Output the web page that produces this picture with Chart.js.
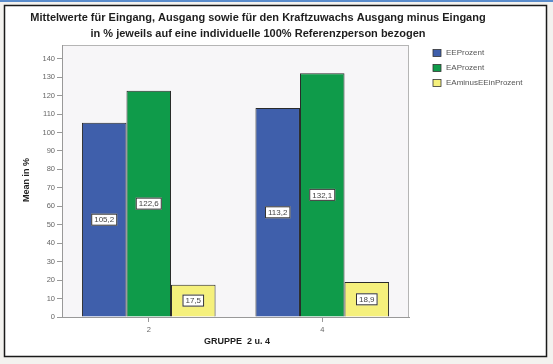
<!DOCTYPE html>
<html>
<head>
<meta charset="utf-8">
<script src="https://cdn.jsdelivr.net/npm/chart.js@4.4.1/dist/chart.umd.min.js"></script>
<style>
  html, body { margin: 0; padding: 0; background: #f3f2ef; }
  #wrap { width: 553px; height: 364px; position: relative; }
</style>
</head>
<body>
<div id="wrap"><canvas id="chart" width="553" height="364"></canvas></div>
<script>
const categories = ["2", "4"];
const eeProzent = [105.2, 113.2];
const eaProzent = [122.6, 132.1];
const eaMinusEe = [17.5, 18.9];
const seriesNames = ["EEProzent", "EAProzent", "EAminusEEinProzent"];
const titleLines = [
  "Mittelwerte für Eingang, Ausgang sowie für den Kraftzuwachs Ausgang minus Eingang",
  "in % jeweils auf eine individuelle 100% Referenzperson bezogen",
];
const yTitle = "Mean in %";
const xTitle = "GRUPPE  2 u. 4";

const FONT = "'Liberation Sans', Arial, sans-serif";

const framePlugin = {
  id: "frame",
  beforeDraw(chart) {
    const c = chart.ctx;
    c.save();
    c.fillStyle = "#f3f2ef";
    c.fillRect(0, 0, chart.width, chart.height);
    c.fillStyle = "#5a8ccc";
    c.fillRect(0, 0, chart.width, 2);
    c.fillStyle = "#ffffff";
    c.fillRect(4, 5, 543, 352);
    c.strokeStyle = "#1a1a1a";
    c.lineWidth = 1.5;
    c.strokeRect(4.5, 5.5, 542, 351);
    const a = chart.chartArea;
    c.fillStyle = "#f7f6f8";
    c.fillRect(a.left, a.top, a.right - a.left, a.bottom - a.top);
    c.strokeStyle = "#b5b5b5";
    c.lineWidth = 1;
    c.strokeRect(a.left + 0.5, a.top + 0.5, a.right - a.left - 1, a.bottom - a.top);
    c.restore();
  },
  afterDraw(chart) {
    const c = chart.ctx;
    c.save();
    // title
    c.fillStyle = "#1e1e1e";
    c.font = "bold 11px " + FONT;
    c.textAlign = "center";
    c.textBaseline = "middle";
    c.fillText(titleLines[0], 258, 18);
    c.fillText(titleLines[1], 258, 34);
    // axis titles
    c.font = "bold 9px " + FONT;
    c.fillText(xTitle, 237, 342);
    c.translate(27, 180);
    c.rotate(-Math.PI / 2);
    c.fillText(yTitle, 0, 0);
    c.restore();

    // legend
    c.save();
    c.font = "8px " + FONT;
    c.textBaseline = "middle";
    c.textAlign = "left";
    chart.data.datasets.forEach((ds, i) => {
      const y = 53 + i * 15;
      c.fillStyle = ds.backgroundColor;
      c.fillRect(433, y - 3.5, 8, 7);
      c.strokeStyle = "#333";
      c.lineWidth = 0.8;
      c.strokeRect(433, y - 3.5, 8, 7);
      c.fillStyle = "#555";
      c.fillText(ds.label, 446, y);
    });
    c.restore();

    // value boxes
    c.save();
    c.font = "8px " + FONT;
    c.textAlign = "center";
    c.textBaseline = "middle";
    chart.data.datasets.forEach((ds, i) => {
      chart.getDatasetMeta(i).data.forEach((bar, j) => {
        const txt = ds.data[j].toFixed(1).replace(".", ",");
        const cy = (bar.y + bar.base) / 2;
        const w = c.measureText(txt).width + 6;
        const h = 12;
        c.fillStyle = "#ffffff";
        c.fillRect(bar.x - w / 2, cy - h / 2, w, h);
        c.strokeStyle = "#333";
        c.lineWidth = 1;
        c.strokeRect(bar.x - w / 2 + 0.5, cy - h / 2 + 0.5, w - 1, h - 1);
        c.fillStyle = "#444";
        c.fillText(txt, bar.x, cy + 0.5);
      });
    });
    c.restore();
  },
};

new Chart(document.getElementById("chart"), {
  type: "bar",
  data: {
    labels: categories,
    datasets: [
      { label: seriesNames[0], data: eeProzent, backgroundColor: "#3f5fab" },
      { label: seriesNames[1], data: eaProzent, backgroundColor: "#0f9b4a" },
      { label: seriesNames[2], data: eaMinusEe, backgroundColor: "#f5f07c" },
    ].map((d) => ({ ...d, borderColor: "#2a2a2a", borderWidth: 1, borderSkipped: "bottom" })),
  },
  options: {
    responsive: false,
    animation: false,
    devicePixelRatio: 1,
    layout: { padding: { left: 4, top: 45, right: 144, bottom: 7 } },
    datasets: { bar: { categoryPercentage: 0.77, barPercentage: 1 } },
    plugins: { legend: { display: false }, title: { display: false }, tooltip: { enabled: false } },
    scales: {
      y: {
        min: 0,
        max: 147.4,
        afterFit: (s) => { s.width = 58; },
        afterBuildTicks: (s) => { s.ticks = s.ticks.filter((t) => t.value % 10 === 0); },
        ticks: { stepSize: 10, color: "#666", font: { size: 7.5, family: FONT }, padding: 2 },
        grid: { drawOnChartArea: false, drawTicks: true, tickLength: 5, color: "#999" },
        border: { display: true, color: "#999" },
      },
      x: {
        afterFit: (s) => { s.height = 40; },
        ticks: { color: "#666", font: { size: 7.5, family: FONT }, padding: 3 },
        grid: { offset: false, drawOnChartArea: false, drawTicks: true, tickLength: 5, color: "#999" },
        border: { display: true, color: "#999" },
      },
    },
  },
  plugins: [framePlugin],
});
</script>
</body>
</html>
